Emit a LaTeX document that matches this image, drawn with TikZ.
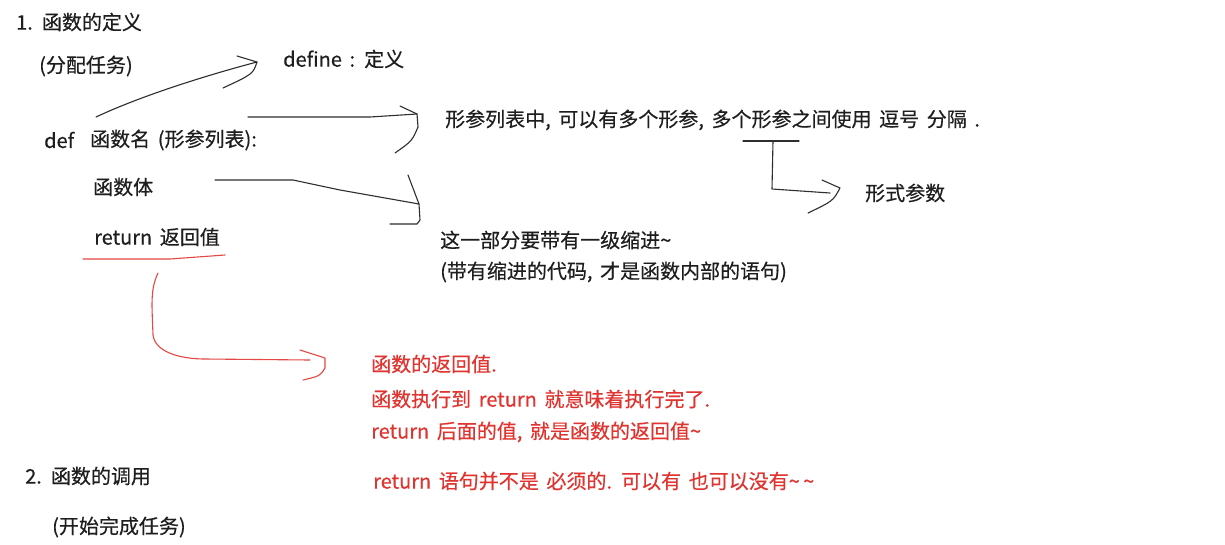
\documentclass[tikz,border=0pt]{standalone}
\usepackage{fontspec}
\setmainfont{Noto Sans CJK SC}[WordSpace=1.7, FakeBold=0.4]
\usepackage{tikz}
\definecolor{notered}{RGB}{224,52,48}
\definecolor{inkgray}{RGB}{30,30,30}
\tikzset{
	txt/.style={anchor=west, inner sep=0pt, text=inkgray, font=\fontsize{20}{24}\selectfont},
	note/.style={txt, text=notered},
	pen/.style={line width=1.1pt, color=black!82, line cap=round, line join=round},
	redpen/.style={pen, color=notered!90}
}

\begin{document}
\begin{tikzpicture}[x=1pt, y=-1pt]
			%%%%% START %%%%%
			\useasboundingbox[fill=white] (0, 0) rectangle (1225, 544);
			
			% headings
			\node[txt] (defhead) at (16, 22) {1. 函数的定义};
			\node[txt] (assign) at (39, 66) {(分配任务)};
			\node[txt] (defword) at (283, 59) {define : 定义};
			
			% the def block
			\node[txt] (kwdef) at (44, 140) {def};
			\node[txt] (fname) at (90, 140) {函数名 (形参列表):};
			\node[txt] (fbody) at (93, 187) {函数体};
			\node[txt] (fret) at (94, 237) {return 返回值};
			
			% notes on the right
			\node[txt] (paramnote) at (445, 120) {形参列表中, 可以有多个形参, 多个形参之间使用 逗号 分隔 .};
			\node[txt] (formal) at (865, 193) {形式参数};
			\node[txt] (indent) at (440, 240) {这一部分要带有一级缩进\textasciitilde};
			\node[txt] (indentwhy) at (440, 272) {(带有缩进的代码, 才是函数内部的语句)};
			
			% return notes
			\node[note] (retA) at (371, 364) {函数的返回值.};
			\node[note] (retB) at (371, 399) {函数执行到 return 就意味着执行完了.};
			\node[note] (retC) at (371, 432) {return 后面的值, 就是函数的返回值\textasciitilde};
			\node[note] (retD) at (373, 481) {return 语句并不是 必须的. 可以有 也可以没有\textasciitilde\,\textasciitilde};
			
			\node[txt] (callhead) at (25, 476) {2. 函数的调用};
			\node[txt] (callwhy) at (52, 527) {(开始完成任务)};
			
			% stroke ends
			\coordinate (defTail) at (96, 117);
			\coordinate (defTip) at (257, 62);
			\coordinate (parTail) at (248, 117);
			\coordinate (parTip) at (417, 114);
			\coordinate (bodyTail) at (215, 180);
			\coordinate (bodyTip) at (419, 204);
			\coordinate (commaL) at (743, 141);
			\coordinate (commaR) at (799, 141);
			\coordinate (formalTip) at (840, 188);
			\coordinate (retL) at (83, 259);
			\coordinate (retR) at (225, 255);
			\coordinate (retTail) at (158, 273);
			\coordinate (retTip) at (325, 358);
			
			% define
			\draw[pen] (defTail) .. controls (145, 94) and (215, 73) .. (defTip);
			\draw[pen] (237, 56) -- (defTip) .. controls (253, 74) .. (223, 88);
			
			% parameter list
			\draw[pen] (parTail) -- (370, 117) -- (parTip);
			\draw[pen] (400, 106) -- (parTip) -- (418, 127) .. controls (412, 141) .. (395, 153);
			
			% body
			\draw[pen] (bodyTail) -- (293, 180) -- (340, 190) -- (bodyTip);
			\draw[pen] (408, 175) -- (bodyTip) -- (420, 220) -- (417, 224) -- (390, 224);
			
			% comma underline
			\draw[pen] (commaL) -- (commaR);
			\draw[pen] (773, 141) -- (772, 189) -- (830, 193);
			\draw[pen] (822, 180) -- (formalTip) .. controls (833, 201) .. (808, 213);
			
			% return value
			\draw[redpen] (retL) -- (170, 259) -- (retR);
			\draw[redpen] (retTail) .. controls (150, 290) and (152, 305) .. (153, 335)
				.. controls (155, 352) and (180, 359) .. (205, 359) -- (310, 360);
			\draw[redpen] (300, 350) -- (retTip) -- (325, 368) .. controls (320, 376) .. (303, 380);
			
			%%%%% END %%%%%
\end{tikzpicture}
\end{document}
